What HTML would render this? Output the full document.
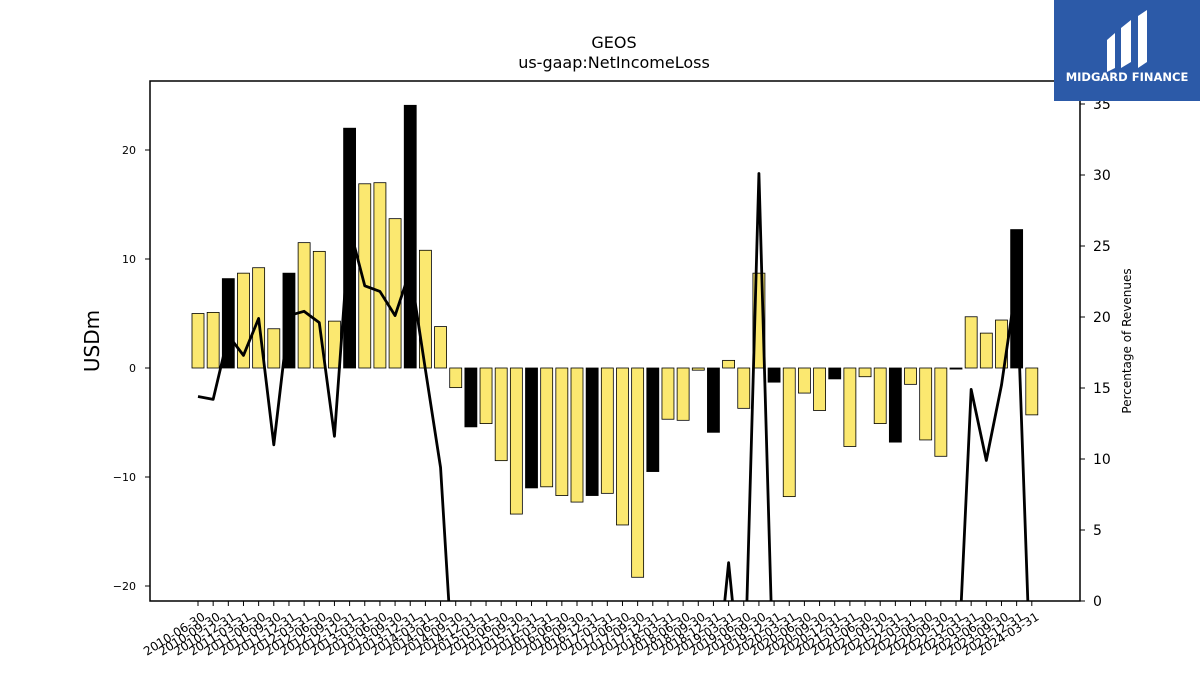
<!DOCTYPE html>
<html><head><meta charset="utf-8"><style>
html,body{margin:0;padding:0;background:#fff;width:1200px;height:675px;overflow:hidden;font-family:"Liberation Sans","DejaVu Sans",sans-serif}
svg{display:block}
</style></head><body>
<svg id="chart" width="1200" height="675" xmlns="http://www.w3.org/2000/svg" font-family="DejaVu Sans, Liberation Sans, sans-serif">
<text x="614" y="48" text-anchor="middle" font-size="16">GEOS</text>
<text x="614" y="68" text-anchor="middle" font-size="16">us-gaap:NetIncomeLoss</text>
<defs><clipPath id="pc"><rect x="150" y="81" width="930" height="520"/></clipPath></defs>
<g id="bars" clip-path="url(#pc)"></g>
<g id="line" clip-path="url(#pc)"></g>
<rect x="150" y="81" width="930" height="520" fill="none" stroke="#000" stroke-width="1.5"/>
<g id="axes"></g>
<text transform="translate(99,341) rotate(-90)" text-anchor="middle" font-size="20">USDm</text>
<text transform="translate(1131,341) rotate(-90)" text-anchor="middle" font-size="12">Percentage of Revenues</text>
<g>
<rect x="1054" y="0" width="146" height="101" fill="#2c5aa8"/>
<path d="M1107 40 L1115 33 L1115 68 L1107 72Z M1121 28 L1131 20 L1131 62 L1121 68Z M1138 16 L1147 10 L1147 62 L1138 68Z" fill="#fff"/>
<text x="1127" y="81" text-anchor="middle" font-size="11.5" font-weight="bold" fill="#fff">MIDGARD FINANCE</text>
</g>
</svg>
<script>
const categories=["2010-06-30","2010-09-30","2010-12-31","2011-03-31","2011-06-30","2011-09-30","2011-12-31","2012-03-31","2012-06-30","2012-09-30","2012-12-31","2013-03-31","2013-06-30","2013-09-30","2013-12-31","2014-03-31","2014-06-30","2014-09-30","2014-12-31","2015-03-31","2015-06-30","2015-09-30","2015-12-31","2016-03-31","2016-06-30","2016-09-30","2016-12-31","2017-03-31","2017-06-30","2017-09-30","2017-12-31","2018-03-31","2018-06-30","2018-09-30","2018-12-31","2019-03-31","2019-06-30","2019-09-30","2019-12-31","2020-03-31","2020-06-30","2020-09-30","2020-12-31","2021-03-31","2021-06-30","2021-09-30","2021-12-31","2022-03-31","2022-06-30","2022-09-30","2022-12-31","2023-03-31","2023-06-30","2023-09-30","2023-12-31","2024-03-31"];
const netIncome=[5.0,5.1,8.2,8.7,9.2,3.6,8.7,11.5,10.7,4.3,22.0,16.9,17.0,13.7,24.1,10.8,3.8,-1.8,-5.4,-5.1,-8.5,-13.4,-11.0,-10.9,-11.7,-12.3,-11.7,-11.5,-14.4,-19.2,-9.5,-4.7,-4.8,-0.2,-5.9,0.7,-3.7,8.7,-1.3,-11.8,-2.3,-3.9,-1.0,-7.2,-0.8,-5.1,-6.8,-1.5,-6.6,-8.1,-0.1,4.7,3.2,4.4,12.7,-4.3];
const pctRevenue=[14.4,14.2,18.7,17.3,19.9,11.0,20.1,20.4,19.6,11.6,26.3,22.2,21.8,20.1,23.3,16.3,9.4,-8,-8,-8,-8,-8,-8,-8,-8,-8,-8,-8,-8,-8,-8,-8,-8,-8,-8,2.7,-8,30.1,-7.5,-8,-8,-8,-8,-8,-8,-8,-8,-8,-8,-8,-8,14.9,9.9,15.2,22.5,-8];
const leftTicks=[-20,-10,0,10,20];
const rightTicks=[0,5,10,15,20,25,30,35];
const NS="http://www.w3.org/2000/svg";
const xPos=i=>198+i*15.16;
const yL=v=>368-v*10.9;
const yR=v=>601-v*14.2;
function mk(t,a,p){const e=document.createElementNS(NS,t);for(const k in a)e.setAttribute(k,a[k]);p.appendChild(e);return e;}
const bars=document.getElementById('bars'),line=document.getElementById('line'),axes=document.getElementById('axes');
netIncome.forEach((v,i)=>{
 const y0=yL(0),y1=yL(v);
 const r=mk('rect',{x:xPos(i)-6,y:Math.min(y0,y1),width:12,height:Math.max(Math.abs(y1-y0),0.8),fill:(i%4==2)?'#000':'#fbe870',stroke:'#000','stroke-width':0.8},bars);
 
 
});
const pts=pctRevenue.map((v,i)=>xPos(i)+','+yR(v)).join(' ');
const pl=mk('polyline',{points:pts,fill:'none',stroke:'#000','stroke-width':2.8,'stroke-linejoin':'round'},line);


leftTicks.forEach(t=>{
 mk('line',{x1:145,x2:150,y1:yL(t),y2:yL(t),stroke:'#000'},axes);
 const tx=mk('text',{x:136,y:yL(t)+4,'text-anchor':'end','font-size':11},axes);
 tx.textContent=t<0?'\u2212'+(-t):t;
 
 
});
rightTicks.forEach(t=>{
 mk('line',{x1:1080,x2:1085,y1:yR(t),y2:yR(t),stroke:'#000'},axes);
 const tx=mk('text',{x:1093,y:yR(t)+5,'font-size':14},axes);
 tx.textContent=t;
 
 
});
categories.forEach((c,i)=>{
 mk('line',{x1:xPos(i),x2:xPos(i),y1:601,y2:606,stroke:'#000'},axes);
 const tx=mk('text',{transform:`translate(${xPos(i)+8},${619}) rotate(-32)`,'text-anchor':'end','font-size':12},axes);
 tx.textContent=c;
 
 
});
</script>
</body></html>
